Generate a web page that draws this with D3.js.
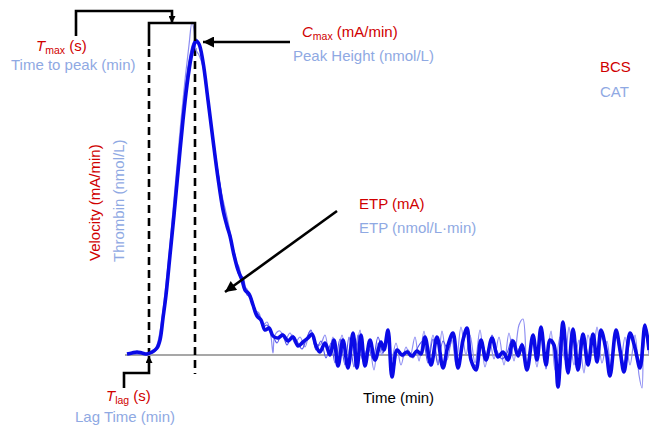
<!DOCTYPE html>
<html><head><meta charset="utf-8">
<script src="https://cdn.jsdelivr.net/npm/d3@7/dist/d3.min.js"></script>
<style>
html,body{margin:0;padding:0;background:#fff;}
svg{display:block;font-family:"Liberation Sans",Arial,Helvetica,sans-serif;}
</style></head>
<body>
<svg id="chart" width="649" height="431"></svg>
<script>
// ---- data (time in min, thrombin in nmol/L) ----
const thickT = [0,0.5,1.0,1.5,2.0,2.5,3.0,3.3,3.6,3.9,4.3,4.7,5.1,5.6,6.0,6.4,6.7,6.9,7.2,7.6,8.1,8.6,9.1,9.6,10.0,10.3,10.7,11.1,11.5,11.8,12.2,12.6,13.0,13.4,13.8,14.2,14.6,15.1,15.6,16.1,16.6,17.1,17.6,18.1,18.5,18.9,19.3,19.8,20.3,20.7,21.1,21.6,22.1,22.6,23.0,23.4,23.8,24.3,24.8,25.4,25.7,26.1,26.5,27.0,27.5,28.0,28.5,29.0,29.4,29.8,30.4,31.0,31.6,32.1,32.6,33.1,33.6,34.0,34.4,34.9,35.4,35.9,36.5,37.1,37.6,38.1,38.6,39.1,39.5,40.0,40.6,41.0,41.4,41.9,42.3,42.7,43.1,43.6,44.1,44.6,45.1,45.6,46.1,46.6,47.0,47.4,47.9,48.3,48.9,49.3,49.7,50.3,50.8,51.3,51.8,52.2];
const thickV = [1,2,3,2,1,3,7,15,37,60,100,140,183,235,270,297,310,314,311,293,255,215,177,145,129,119,100,85,75,65,61,50,39,35,25,27,19,17,20,14,18,9,13,17,21,9,3,12,0,15,-11,15,-13,22,-13,20,-11,15,-5,13,5,25,-22,5,0,3,-1,4,1,18,-10,18,-13,10,22,-13,15,27,-5,-15,15,-5,17,-2,3,-5,14,-1,10,-15,20,-5,28,-10,15,10,-32,33,-18,26,-15,21,-10,21,-7,25,5,-21,25,5,-17,22,7,-13,30,5];

const thinAT = [0,1.0,2.0,2.6,3.0,3.4,3.8,4.2,4.6,5.0,5.4,5.8,6.2,6.5,6.7,6.9,7.2,7.6,8.0,8.5,9.0,9.5,10.0,10.4,10.8,11.2,11.6,12.0,12.4,12.8,13.2,13.6,14.0,14.4,14.6,14.8,15.3,15.8,16.3,16.8,17.3,17.8,18.3,18.8,19.3,19.8,20.2,20.6,21.0,21.5,22.0,22.4,22.8,23.3,23.7,24.2,24.7,25.1,25.5,26.0,26.4,26.9,27.4,27.9,28.3,28.8,29.2,29.7,30.1,30.6,31.1,31.5,32.0,32.5,32.9,33.4,33.9,34.3,34.8,35.3,35.8,36.3,36.7,37.2,37.7,38.2,38.7,39.2,39.6,40.0,40.5,41.0,41.4,41.9,42.4,42.8,43.3,43.8,44.2,44.7,45.2,45.7,46.1,46.6,47.0,47.5,48.0,48.4,48.9,49.4,49.8,50.3,50.8,51.2,51.5,51.7,52.2];
const thinAV = [0,2,1,3,10,30,62,100,145,190,235,275,310,333,325,305,300,288,258,222,188,160,138,118,95,88,70,66,55,45,42,30,33,18,2,20,24,15,22,12,18,8,24,12,10,20,2,18,-4,20,-6,14,-2,25,-8,10,-15,12,0,20,-8,12,-10,8,-2,18,-6,24,-4,20,-8,24,-5,15,-10,28,0,20,-8,25,-12,12,-4,18,-10,22,-6,30,36,-8,15,-12,20,-6,24,-15,18,-5,28,-10,15,-18,20,2,28,-8,14,-14,22,-4,18,-10,20,-20,-33,30,0];

const thinBT = [0,1.0,2.0,2.6,3.0,3.4,3.8,4.2,4.6,5.0,5.4,5.8,6.2,6.6,6.9,7.2,7.6,8.0,8.5,9.0,9.5,10.0,10.4,10.8,11.2,11.6,12.0,12.4,12.8,13.2,13.6,14.0,14.5,15.0,15.5,16.0,16.5,17.0,17.5,18.0,18.4,18.9,19.4,19.9,20.4,20.8,21.3,21.8,22.2,22.7,23.1,23.6,24.1,24.6,25.1,25.6,26.1,26.6,27.1,27.6,28.1,28.6,29.1,29.6,30.1,30.6,31.1,31.6,32.1,32.6,33.1,33.6,34.0,34.5,35.0,35.5,36.0,36.5,37.0,37.5,38.0,38.5,39.0,39.5,40.0,40.5,41.0,41.4,41.9,42.3,42.8,43.2,43.7,44.2,44.7,45.2,45.7,46.2,46.6,47.1,47.5,48.0,48.4,48.9,49.4,49.8,50.4,50.9,51.4,51.9,52.2];
const thinBV = [2,1,2,2,6,22,52,92,135,180,225,265,295,312,316,312,295,262,225,190,158,132,112,100,80,78,60,58,44,40,28,30,22,12,22,10,20,14,6,18,25,5,14,-3,12,-8,16,-10,18,-12,20,-6,8,-4,18,2,22,-18,6,-2,5,-3,8,14,-8,16,-10,14,5,18,-8,12,22,-8,-10,12,-2,20,4,-4,2,16,3,12,-12,16,0,22,-14,12,6,-28,28,-14,22,-10,18,-6,18,-4,20,2,-16,20,2,-12,18,4,-10,25,8];

const lagTime = 2.2, peakTime = 6.8;
const labelsRed = ["T","max"," (s)","C","max"," (mA/min)","BCS","Velocity (mA/min)","ETP (mA)","T","lag"," (s)"];
const labelsBlue = ["Time to peak (min)","Peak Height (nmol/L)","CAT","Thrombin (nmol/L)","ETP (nmol/L·min)","Lag Time (min)"];
const xTitle = "Time (min)";

// ---- drawing ----
const RED = "#d00000", LBLUE = "#8fa9e3";
const svg = d3.select("#chart");
const x = d3.scaleLinear().domain([0, 52.2]).range([127, 649]);
const y = d3.scaleLinear().domain([0, 315]).range([355, 40]);

const defs = svg.append("defs");
function marker(id, w, h){
  defs.append("marker").attr("id", id).attr("viewBox","0 0 10 10")
    .attr("refX", 10).attr("refY", 5).attr("markerUnits","userSpaceOnUse")
    .attr("markerWidth", w).attr("markerHeight", h).attr("orient","auto")
    .append("path").attr("d","M0,0 L10,5 L0,10 z").attr("fill","#000");
}
marker("arS", 7, 7);
marker("arL", 13, 11);

// baseline
svg.append("line").attr("x1", x(0)-2).attr("x2", x(52.2)).attr("y1", y(0)).attr("y2", y(0))
  .attr("stroke","#8a8a8a").attr("stroke-width",1.5);

// dashed guides
const xl = x(lagTime), xp = x(peakTime);
svg.append("line").attr("x1",xl).attr("x2",xl).attr("y1",49).attr("y2",y(0)-2)
  .attr("stroke","#000").attr("stroke-width",2.6).attr("stroke-dasharray","8,5");
svg.append("line").attr("x1",xp).attr("x2",xp).attr("y1",48).attr("y2",y(0)+19)
  .attr("stroke","#000").attr("stroke-width",2.6).attr("stroke-dasharray","8,5");

// curves
const line = d3.line().x(d=>x(d[0])).y(d=>y(d[1])).curve(d3.curveCatmullRom.alpha(0.5));
const zip = (a,b)=>a.map((t,i)=>[t,b[i]]);
svg.append("path").attr("d", line(zip(thinAT,thinAV))).attr("fill","none")
  .attr("stroke","#8c8cf2").attr("stroke-width",1.2);
svg.append("path").attr("d", line(zip(thinBT,thinBV))).attr("fill","none")
  .attr("stroke","#5050ea").attr("stroke-width",1.1);
svg.append("path").attr("d", line(zip(thickT,thickV))).attr("fill","none")
  .attr("stroke","#0a0ae6").attr("stroke-width",3.6).attr("stroke-linejoin","round");

// brackets and arrows
const blk = {fill:"none", stroke:"#000", "stroke-width":2.6};
function p(d, m){ const e = svg.append("path").attr("d", d); for (const k in blk) e.attr(k, blk[k]); if (m) e.attr("marker-end", `url(#${m})`); return e; }
p(`M${xl},46 V23 H${xp} V41`);
p(`M76,36 V11 H172 V23`, "arS");
p(`M290,${y(314)+1} H203`, "arL");
p(`M337,211 L225,292`, "arL");
p(`M124,388 V373 H${xl} V356`, "arS");

// texts
function sub(xx, yy, parts, color){
  const t = svg.append("text").attr("x", xx).attr("y", yy).attr("fill", color).attr("font-size", 15);
  t.append("tspan").text(parts[0]).attr("font-style","italic");
  t.append("tspan").text(parts[1]).attr("font-size", 10.5).attr("dy", 3);
  t.append("tspan").text(parts[2]).attr("dy", -3);
}
sub(36, 51, labelsRed.slice(0,3), RED);
sub(302, 37, labelsRed.slice(3,6), RED);
sub(106, 401, labelsRed.slice(9,12), RED);

function txt(s, xx, yy, color, rot){
  const t = svg.append("text").attr("x", xx).attr("y", yy).attr("fill", color).attr("font-size", 15).text(s);
  if (rot) t.attr("transform", `rotate(-90,${xx},${yy})`);
  return t;
}
txt(labelsBlue[0], 11, 70, LBLUE);
txt(labelsBlue[1], 293, 61, LBLUE);
txt(labelsRed[6], 600, 72, RED);
txt(labelsBlue[2], 600, 97, LBLUE);
txt(labelsRed[7], 100, 261, RED, true);
txt(labelsBlue[3], 124, 262, LBLUE, true);
txt(labelsRed[8], 359, 209, RED);
txt(labelsBlue[4], 359, 233, LBLUE);
txt(labelsBlue[5], 75, 422, LBLUE);
txt(xTitle, 363, 403, "#000");
</script>
</body></html>
